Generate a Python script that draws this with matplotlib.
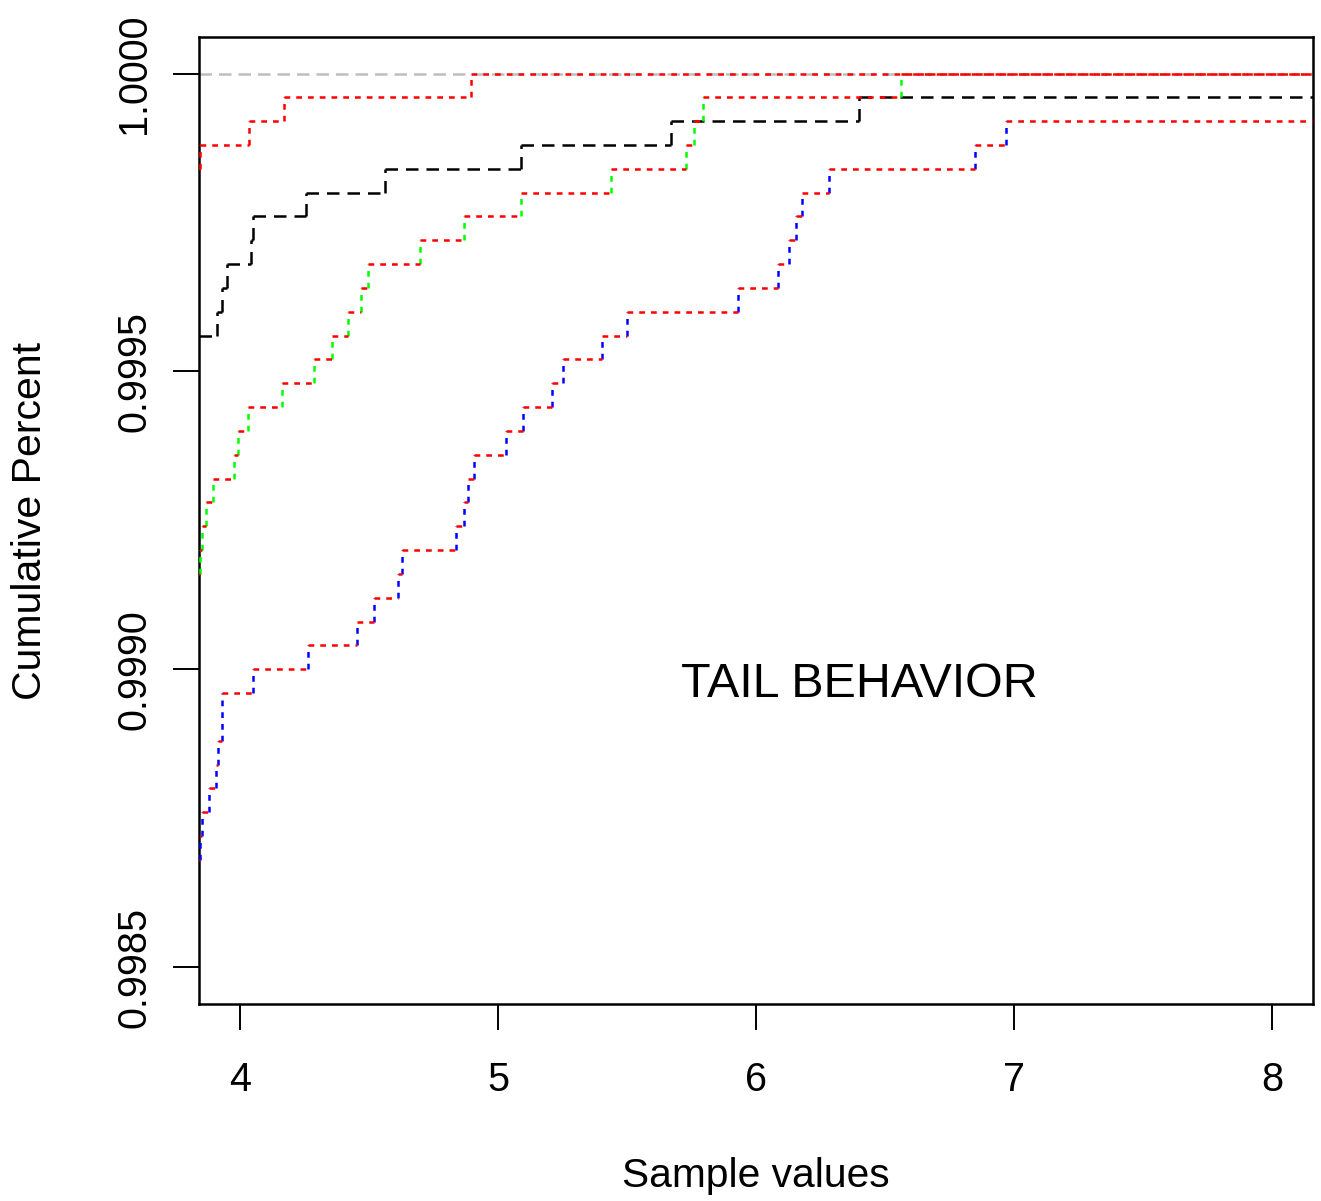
import matplotlib
matplotlib.use("Agg")
import matplotlib.pyplot as plt

plt.rcParams['font.family'] = ['Liberation Sans', 'DejaVu Sans']

# ---- data (ECDF step locations and the level reached after each step) ----
top_red_y0 = 0.99984
top_red_x = [3.844, 4.034, 4.171, 4.894]
top_red_y = [0.99988, 0.99992, 0.99996, 1.00000]

black_y0 = 0.99956
black_x = [3.909, 3.930, 3.947, 4.042, 4.050, 4.255, 4.561, 5.088, 5.668, 6.399]
black_y = [0.99960, 0.99964, 0.99968, 0.99972, 0.99976, 0.99980, 0.99984,
           0.99988, 0.99992, 0.99996]

green_y0 = 0.99916
green_x = [3.844, 3.853, 3.866, 3.895, 3.977, 3.990, 4.031, 4.161, 4.287,
           4.354, 4.416, 4.468, 4.494, 4.697, 4.866, 5.088, 5.437, 5.726,
           5.759, 5.793, 6.561]
green_y = [0.99920, 0.99924, 0.99928, 0.99932, 0.99936, 0.99940, 0.99944,
           0.99948, 0.99952, 0.99956, 0.99960, 0.99964, 0.99968, 0.99972,
           0.99976, 0.99980, 0.99984, 0.99988, 0.99992, 0.99996, 1.00000]

blue_y0 = 0.99868
blue_x = [3.843, 3.853, 3.879, 3.906, 3.915, 3.930, 4.050, 4.264, 4.451,
          4.518, 4.612, 4.628, 4.836, 4.868, 4.884, 4.907, 5.029, 5.097,
          5.207, 5.250, 5.402, 5.498, 5.929, 6.084, 6.127, 6.153, 6.177,
          6.282, 6.850, 6.968]
blue_y = [0.99872, 0.99876, 0.99880, 0.99884, 0.99888, 0.99896, 0.99900,
          0.99904, 0.99908, 0.99912, 0.99916, 0.99920, 0.99924, 0.99928,
          0.99932, 0.99936, 0.99940, 0.99944, 0.99948, 0.99952, 0.99956,
          0.99960, 0.99964, 0.99968, 0.99972, 0.99976, 0.99980, 0.99984,
          0.99988, 0.99992]

ref_level = 1.0
x_ticks = [4, 5, 6, 7, 8]
y_ticks = [0.9985, 0.9990, 0.9995, 1.0000]
y_tick_labels = ["0.9985", "0.9990", "0.9995", "1.0000"]

XMIN, XMAX = 3.840, 8.158
YMIN, YMAX = 0.998438, 1.0000613

fig = plt.figure(figsize=(13.21, 12.01), dpi=100)
ax = fig.add_axes([0.1506, 0.1640, 0.9939 - 0.1506, 0.9692 - 0.1640])
ax.set_xlim(XMIN, XMAX)
ax.set_ylim(YMIN, YMAX)

LW = 1.8
dotted = (0, (2.3, 2.4))
dashed = (0, (5.0, 3.2))


def draw_ecdf(xs, ys, y0, col_h, col_v, ls, z):
    lefts = [XMIN] + list(xs)
    rights = list(xs) + [XMAX]
    levels = [y0] + list(ys)
    lows = [y0] + list(ys[:-1])
    ax.vlines(xs, lows, ys, colors=col_v, linestyles=ls, linewidth=LW,
              zorder=z)
    ax.hlines(levels, lefts, rights, colors=col_h, linestyles=ls,
              linewidth=LW, zorder=z + 0.1)


ax.axhline(ref_level, color='#BEBEBE', linestyle=(0, (5.0, 2.8)),
           linewidth=LW, zorder=1)
draw_ecdf(black_x, black_y, black_y0, 'black', 'black', dashed, 2)
draw_ecdf(green_x, green_y, green_y0, 'red', '#00FF00', dotted, 3)
draw_ecdf(blue_x, blue_y, blue_y0, 'red', '#0000FF', dotted, 4)
draw_ecdf(top_red_x, top_red_y, top_red_y0, 'red', 'red', dotted, 5)

for sp in ax.spines.values():
    sp.set_linewidth(1.8)
    sp.set_color('black')

ax.set_xticks(x_ticks)
ax.set_xticklabels([str(v) for v in x_ticks])
ax.set_yticks(y_ticks)
ax.set_yticklabels(y_tick_labels)
ax.tick_params(axis='both', direction='out', length=19, width=1.4,
               labelsize=28.5, colors='black')
ax.tick_params(axis='x', pad=22)
ax.tick_params(axis='y', pad=14, labelrotation=90)
for lab in ax.get_yticklabels():
    lab.set_va('center')

ax.set_xlabel("Sample values", fontsize=29.3)
ax.set_ylabel("Cumulative Percent", fontsize=29.5)
ax.xaxis.label.set_va('center')
ax.yaxis.label.set_va('center')
ax.xaxis.set_label_coords(0.5, (1004 - 1176) / 967)
ax.yaxis.set_label_coords((30 - 199) / 1114, 0.5)

ax.text(6.398, 0.998975, "TAIL BEHAVIOR", fontsize=34.8, ha='center',
        va='center', color='black')

fig.savefig("out.png", dpi=100)
